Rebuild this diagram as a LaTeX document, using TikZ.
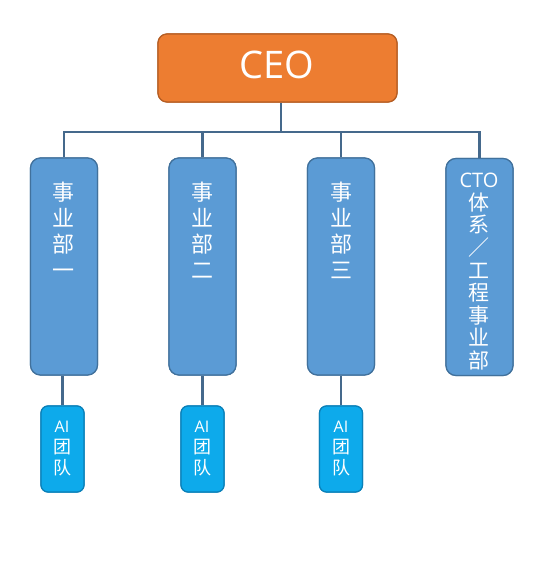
\documentclass[tikz,border=0pt]{standalone}
\usepackage{fontspec}
\newfontfamily\cjk{Noto Sans CJK SC}
\newfontfamily\lat{Open Sans}
\definecolor{ceofill}{HTML}{ED7D31}
\definecolor{ceoline}{HTML}{B55E24}
\definecolor{deptfill}{HTML}{5B9BD5}
\definecolor{deptline}{HTML}{41719C}
\definecolor{aifill}{HTML}{0DAAEB}
\definecolor{ailine}{HTML}{0A80B8}
\definecolor{conn}{HTML}{45698C}
\tikzset{
  ceobox/.style={draw=ceoline, fill=ceofill, line width=1.2pt, rounded corners=9pt,
    minimum width=239pt, minimum height=68pt, inner sep=0pt},
  deptbox/.style={draw=deptline, fill=deptfill, line width=1.2pt, rounded corners=10pt,
    minimum width=67pt, minimum height=217pt, inner sep=0pt},
  aibox/.style={draw=ailine, fill=aifill, line width=1.2pt, rounded corners=7pt,
    minimum width=43pt, minimum height=86pt, inner sep=0pt},
  depttext/.style={anchor=north, inner sep=0pt, align=center, text=white,
    font=\cjk\fontsize{22}{26}\selectfont},
  ctotext/.style={anchor=north, inner sep=0pt, align=center, text=white,
    font=\cjk\fontsize{21}{22.6}\selectfont},
  aitext/.style={anchor=north, inner sep=0pt, align=center, text=white,
    font=\cjk\fontsize{18}{21}\selectfont},
  connector/.style={draw=conn, line width=2.6pt},
}
\begin{document}
\begin{tikzpicture}[x=1pt,y=-1pt]
\useasboundingbox (0,0) rectangle (551,578);
\coordinate (bus) at (281,132);
\node[ceobox] (ceo) at (277.5,68) {};
\node[deptbox] (b1) at (64,266.5) {};
\node[deptbox] (b2) at (202.5,266.5) {};
\node[deptbox] (b3) at (341,266.5) {};
\node[deptbox] (b4) at (479.5,267) {};
\node[aibox] (a1) at (62.5,449) {};
\node[aibox] (a2) at (202.5,449) {};
\node[aibox] (a3) at (341,449) {};
\draw[connector] (ceo.south -| bus) -- (bus);
\draw[connector] (b1.north) |- (b4.north |- bus) -- (b4.north);
\draw[connector] (b2.north) -- (b2.north |- bus);
\draw[connector] (b3.north) -- (b3.north |- bus);
\draw[connector] (a1.north) -- (a1.north |- b1.south);
\draw[connector] (a2.north) -- (a2.north |- b2.south);
\draw[connector] (a3.north) -- (a3.north |- b3.south);
% redraw boxes on top of connector ends
\node[ceobox] (ceoT) at (ceo) {};
\node[deptbox] (b1T) at (b1) {};
\node[deptbox] (b2T) at (b2) {};
\node[deptbox] (b3T) at (b3) {};
\node[deptbox] (b4T) at (b4) {};
\node[aibox] (a1T) at (a1) {};
\node[aibox] (a2T) at (a2) {};
\node[aibox] (a3T) at (a3) {};
% texts
\node[text=white, font=\lat\fontsize{38}{42}\selectfont, inner sep=0pt] (ceotxt) at (277,65) {CEO};
\node[depttext] (t1) at (63,182) {事\\业\\部\\一};
\node[depttext] (t2) at (202,182) {事\\业\\部\\二};
\node[depttext] (t3) at (341,182) {事\\业\\部\\三};
\node[ctotext] (t4) at (479,173) {{\lat\fontsize{20}{22.6}\selectfont CTO}\\体\\系\\／\\工\\程\\事\\业\\部};
\node[aitext] (ta1) at (62,421) {{\lat\fontsize{16}{21}\selectfont AI}\\团\\队};
\node[aitext] (ta2) at (202,421) {{\lat\fontsize{16}{21}\selectfont AI}\\团\\队};
\node[aitext] (ta3) at (341,421) {{\lat\fontsize{16}{21}\selectfont AI}\\团\\队};
\end{tikzpicture}
\end{document}
